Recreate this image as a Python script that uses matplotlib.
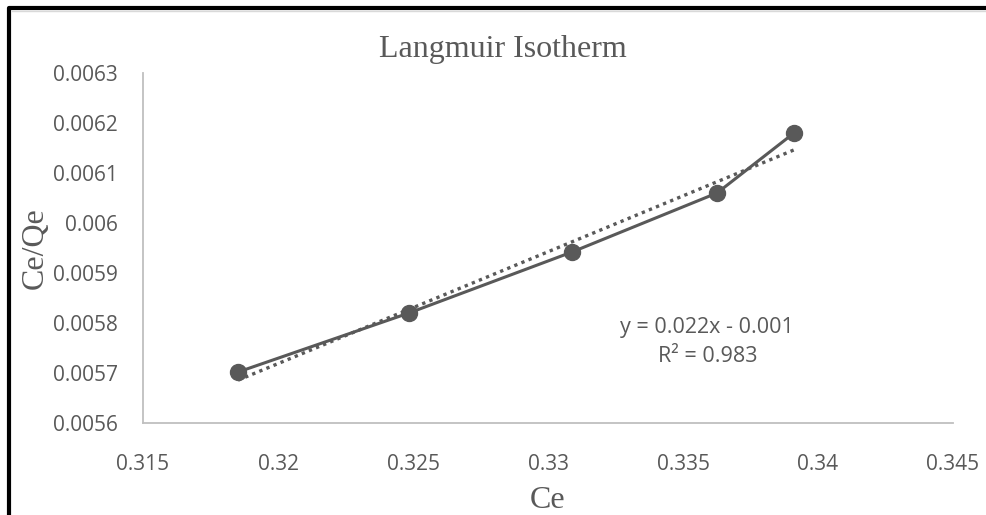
import numpy as np
import matplotlib
matplotlib.use("Agg")
import matplotlib.pyplot as plt
from matplotlib.lines import Line2D

# Langmuir isotherm data
ce = [0.31852, 0.32485, 0.33089, 0.33626, 0.33911]
ce_qe = [0.005702, 0.005820, 0.005942, 0.006060, 0.006180]

x_ticks = [0.315, 0.32, 0.325, 0.33, 0.335, 0.34, 0.345]
x_labels = ["0.315", "0.32", "0.325", "0.33", "0.335", "0.34", "0.345"]
y_ticks = [0.0056, 0.0057, 0.0058, 0.0059, 0.006, 0.0061, 0.0062, 0.0063]
y_labels = ["0.0056", "0.0057", "0.0058", "0.0059", "0.006", "0.0061", "0.0062", "0.0063"]

eq_text = "y = 0.022x - 0.001\nR\u00b2 = 0.983"

line_col = "#595959"
axis_col = "#BFBFBF"
tick_col = "#595959"

fig = plt.figure(figsize=(9.87, 5.15), dpi=100)
ax = fig.add_axes([0.1449, 0.1786, 0.8207, 0.6797])

# data series
ax.plot(ce, ce_qe, color=line_col, linewidth=2.2, marker="o",
        markersize=11.5, zorder=3)

# linear trendline
slope, inter = np.polyfit(ce, ce_qe, 1)
tx = np.array([min(ce), max(ce)])
ax.plot(tx, slope * tx + inter, color=line_col, linewidth=2.4,
        linestyle=(0, (1, 1.3)), zorder=2)

ax.text(0.3359, 0.005812, eq_text, ha="center", va="top", fontsize=15.5,
        family="Open Sans", color=tick_col, linespacing=1.5)

ax.set_xlim(0.315, 0.345)
ax.set_ylim(0.0056, 0.0063)
ax.set_xticks(x_ticks)
ax.set_xticklabels(x_labels)
ax.set_yticks(y_ticks)
ax.set_yticklabels(y_labels)

for s in ["top", "right"]:
    ax.spines[s].set_visible(False)
for s in ["left", "bottom"]:
    ax.spines[s].set_color(axis_col)
    ax.spines[s].set_linewidth(1.3)

ax.tick_params(axis="both", length=0, labelsize=15, labelcolor=tick_col)
ax.tick_params(axis="y", pad=18)
ax.tick_params(axis="x", pad=22)
for lab in ax.get_xticklabels() + ax.get_yticklabels():
    lab.set_family("Open Sans")

fig.text(503 / 987, 1 - 50 / 515, "Langmuir Isotherm", family="Liberation Serif",
         fontsize=23, color=line_col, ha="center", va="center")
ax.set_xlabel("Ce", family="Liberation Serif", fontsize=23, color=line_col,
              labelpad=8)
ax.set_ylabel("Ce/Qe", family="Liberation Serif", fontsize=23,
              color=line_col, labelpad=2)

# frame of the chart area (left and top edges visible)
fx = 9 / 987
fy = 1 - 8 / 515
fig.add_artist(Line2D([fx, fx, 1], [0, fy, fy], color="black",
                      linewidth=3, transform=fig.transFigure))
fig.add_artist(Line2D([fx + 3 / 987, 1], [fy - 2.5 / 515, fy - 2.5 / 515],
                      color="#D9D9D9", linewidth=1,
                      transform=fig.transFigure))

fig.savefig("out.png", dpi=100)
